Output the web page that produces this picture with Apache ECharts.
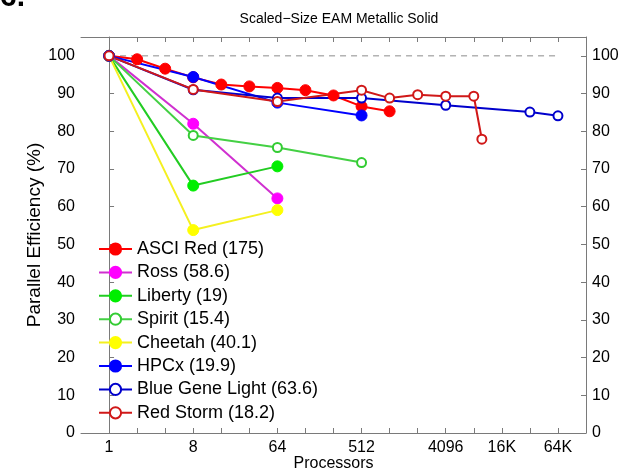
<!DOCTYPE html>
<html>
<head>
<meta charset="utf-8">
<script src="https://cdn.jsdelivr.net/npm/echarts@6/dist/echarts.min.js"></script>
<style>
html,body{margin:0;padding:0;background:#fff;}
#chart{width:620px;height:471px;}
</style>
</head>
<body>
<div id="chart"></div>
<script>
// Data (processor counts and parallel efficiency in %)
const asciRedProcs = [1, 2, 4, 8, 16, 32, 64, 128, 256, 512, 1024];
const asciRedEff   = [100, 99.1, 96.6, 94.3, 92.4, 91.9, 91.5, 90.9, 89.5, 86.6, 85.3];
const rossProcs = [1, 8, 64];
const rossEff   = [100, 82.0, 62.2];
const libertyProcs = [1, 8, 64];
const libertyEff   = [100, 65.6, 70.7];
const spiritProcs = [1, 8, 64, 512];
const spiritEff   = [100, 78.9, 75.7, 71.7];
const cheetahProcs = [1, 8, 64];
const cheetahEff   = [100, 53.8, 59.1];
const hpcxProcs = [1, 8, 64, 512];
const hpcxEff   = [100, 94.4, 87.6, 84.2];
const bglProcs = [1, 8, 64, 512, 4096, 32768, 65536];
const bglEff   = [100, 91.0, 88.8, 88.8, 86.9, 85.1, 84.1];
const redStormProcs = [1, 8, 64, 512, 1024, 2048, 4096, 8192, 10000];
const redStormEff   = [100, 91.1, 87.9, 90.9, 88.8, 89.7, 89.3, 89.3, 77.9];
const idealProcs = [1, 65536];
const idealEff   = [100, 100];

const seriesNames = ['ASCI Red (175)', 'Ross (58.6)', 'Liberty (19)', 'Spirit (15.4)',
  'Cheetah (40.1)', 'HPCx (19.9)', 'Blue Gene Light (63.6)', 'Red Storm (18.2)'];

const xTickValues = [1, 8, 64, 512, 4096, 16384, 65536];
const xTickLabels = ['1', '8', '64', '512', '4096', '16K', '64K'];
const yTickValues = [0, 10, 20, 30, 40, 50, 60, 70, 80, 90, 100];

const FONT = 'Liberation Sans, Arial, Helvetica, sans-serif';
const lg2 = v => Math.log2(v);
const pts = (p, e) => p.map((v, i) => [lg2(v), e[i]]);

const xTickExp = xTickValues.map(lg2);
const minorExp = [];
for (let k = 0; k <= 16; k++) minorExp.push(k);

function lineSeries(name, procs, eff, color, lineColor, open) {
  return {
    name: name,
    type: 'line',
    data: pts(procs, eff),
    symbol: 'circle',
    symbolSize: open ? 9 : 11,
    showSymbol: true,
    lineStyle: { color: lineColor, width: 2 },
    itemStyle: open ? { color: '#ffffff', borderColor: color, borderWidth: 2 }
                    : { color: color, borderColor: color, borderWidth: 1 },
    emphasis: { disabled: true },
    animation: false,
    z: 3
  };
}

const chart = echarts.init(document.getElementById('chart'), null, { renderer: 'canvas' });

const axisLineStyle = { color: '#7a7a7a', width: 1 };

const option = {
  backgroundColor: '#ffffff',
  animation: false,
  title: {
    text: 'Scaled\u2212Size EAM Metallic Solid',
    left: 334, textAlign: 'center',
    top: 7,
    textStyle: { fontFamily: FONT, fontSize: 14, fontWeight: 'normal', color: '#000' }
  },
  graphic: [{
    type: 'text', left: 0, top: -17,
    style: { text: '6.', font: 'bold 30px ' + FONT, fill: '#000' }
  }],
  grid: { left: 81, right: 34, top: 37, bottom: 38, containLabel: false, outerBoundsMode: 'none' },
  legend: {
    orient: 'vertical',
    left: 98, top: 240, padding: 0,
    itemWidth: 33, itemHeight: 14, itemGap: 5.4,
    data: seriesNames,
    textStyle: { fontFamily: FONT, fontSize: 18, color: '#000' },
    selectedMode: false
  },
  xAxis: [{
    type: 'value', min: -1, max: 17, interval: 1,
    position: 'bottom',
    name: 'Processors', nameLocation: 'middle', nameGap: 23, nameMoveOverlap: false,
    nameTextStyle: { fontFamily: FONT, fontSize: 16, color: '#000' },
    axisLine: { show: true, lineStyle: axisLineStyle },
    axisTick: { show: true, inside: true, length: 5, lineStyle: axisLineStyle, customValues: minorExp },
    axisLabel: {
      customValues: xTickExp, margin: 7,
      fontFamily: FONT, fontSize: 16, color: '#000',
      formatter: v => { const i = xTickExp.findIndex(e => Math.abs(e - v) < 1e-6); return i >= 0 ? xTickLabels[i] : ''; }
    },
    splitLine: { show: false }
  }, {
    type: 'value', min: -1, max: 17, interval: 1,
    position: 'top',
    axisLine: { show: true, onZero: false, lineStyle: axisLineStyle },
    axisTick: { show: true, inside: true, length: 5, lineStyle: axisLineStyle, customValues: minorExp },
    axisLabel: { show: false },
    splitLine: { show: false }
  }],
  yAxis: [{
    type: 'value', min: 0, max: 105, interval: 10,
    position: 'left',
    name: 'Parallel Efficiency (%)', nameLocation: 'middle', nameGap: 37, nameMoveOverlap: false,
    nameTextStyle: { fontFamily: FONT, fontSize: 19, color: '#000' },
    axisLine: { show: true, lineStyle: axisLineStyle },
    axisTick: { show: true, inside: true, length: 5, lineStyle: axisLineStyle, customValues: yTickValues },
    axisLabel: { customValues: yTickValues, margin: 6, fontFamily: FONT, fontSize: 16, color: '#000' },
    splitLine: { show: false }
  }, {
    type: 'value', min: 0, max: 105, interval: 10,
    position: 'right',
    axisLine: { show: true, onZero: false, lineStyle: axisLineStyle },
    axisTick: { show: true, inside: true, length: 5, lineStyle: axisLineStyle, customValues: yTickValues },
    axisLabel: { customValues: yTickValues, margin: 6, fontFamily: FONT, fontSize: 16, color: '#000' },
    splitLine: { show: false }
  }],
  series: [
    {
      name: 'ideal', type: 'line', data: pts(idealProcs, idealEff),
      symbol: 'none', lineStyle: { color: '#8c8c8c', width: 1, type: [6, 5] },
      emphasis: { disabled: true }, z: 2, silent: true
    },
    lineSeries(seriesNames[0], asciRedProcs, asciRedEff, '#ff0000', '#ff0000', false),
    lineSeries(seriesNames[1], rossProcs, rossEff, '#ff00ff', '#d030d0', false),
    lineSeries(seriesNames[2], libertyProcs, libertyEff, '#00ee00', '#22cc22', false),
    lineSeries(seriesNames[3], spiritProcs, spiritEff, '#33cc33', '#44d044', true),
    lineSeries(seriesNames[4], cheetahProcs, cheetahEff, '#ffff00', '#f4f020', false),
    lineSeries(seriesNames[5], hpcxProcs, hpcxEff, '#0000ff', '#0000ff', false),
    lineSeries(seriesNames[6], bglProcs, bglEff, '#0000cc', '#0000cc', true),
    lineSeries(seriesNames[7], redStormProcs, redStormEff, '#d01818', '#d01818', true)
  ]
};
chart.setOption(option);
</script>
</body>
</html>
